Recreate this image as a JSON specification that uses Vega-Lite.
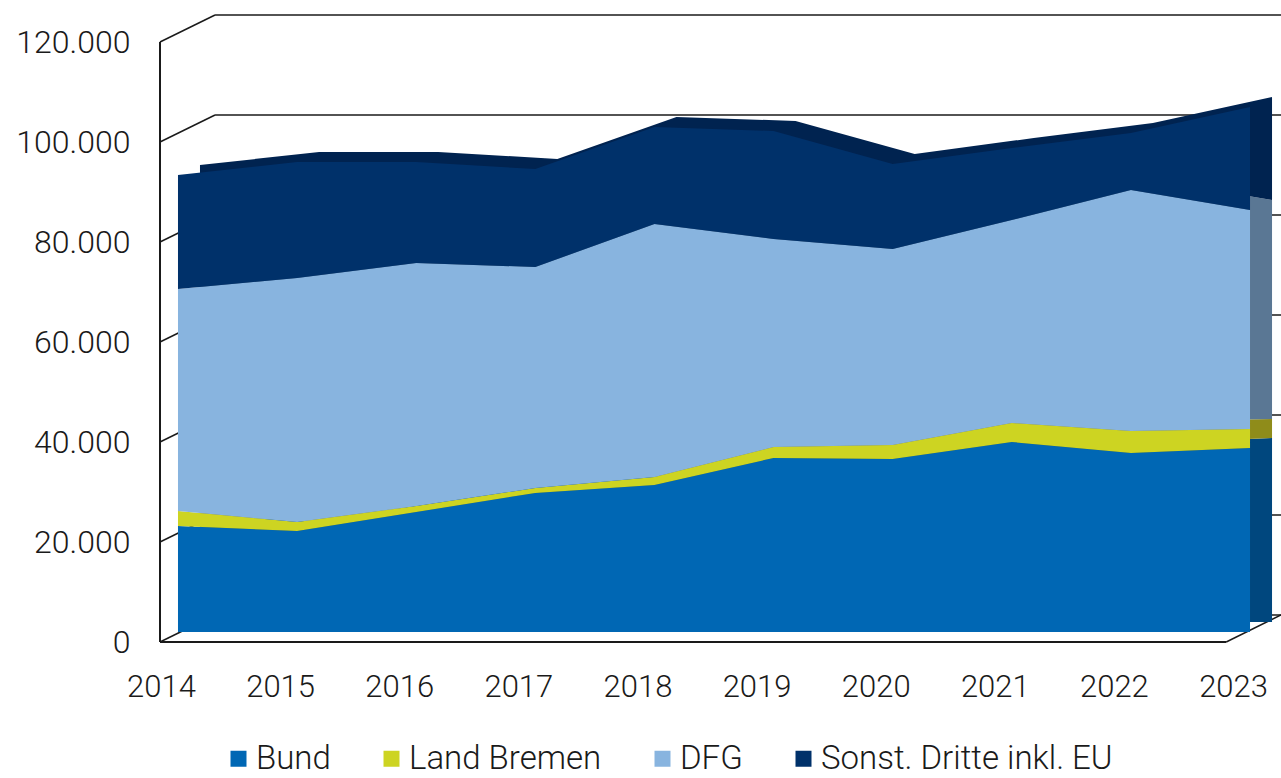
{
  "$schema": "https://vega.github.io/schema/vega-lite/v6.json",
  "autosize": "none",
  "width": 1121,
  "height": 627,
  "padding": {"left": 160, "top": 15, "right": 0, "bottom": 136},
  "background": "white",
  "config": {
    "view": {"stroke": null},
    "font": "Roboto",
    "axis": {"labelFont": "Roboto", "labelFontWeight": 300, "labelColor": "#1a1a1a", "domain": false, "ticks": false, "grid": false, "title": null},
    "legend": {"labelFont": "Roboto", "labelFontWeight": 300, "labelColor": "#1a1a1a"}
  },
  "datasets": {
    "grid": [
      {"v": 0}, {"v": 20000}, {"v": 40000}, {"v": 60000}, {"v": 80000}, {"v": 100000}, {"v": 120000}
    ],
    "funding": [
      {"year": 2014, "series": "Bund", "value": 21200},
      {"year": 2015, "series": "Bund", "value": 20200},
      {"year": 2016, "series": "Bund", "value": 24000},
      {"year": 2017, "series": "Bund", "value": 27800},
      {"year": 2018, "series": "Bund", "value": 29400},
      {"year": 2019, "series": "Bund", "value": 34800},
      {"year": 2020, "series": "Bund", "value": 34600},
      {"year": 2021, "series": "Bund", "value": 38000},
      {"year": 2022, "series": "Bund", "value": 35800},
      {"year": 2023, "series": "Bund", "value": 36800},
      {"year": 2014, "series": "Land Bremen", "value": 3000},
      {"year": 2015, "series": "Land Bremen", "value": 1800},
      {"year": 2016, "series": "Land Bremen", "value": 1200},
      {"year": 2017, "series": "Land Bremen", "value": 1000},
      {"year": 2018, "series": "Land Bremen", "value": 1600},
      {"year": 2019, "series": "Land Bremen", "value": 2200},
      {"year": 2020, "series": "Land Bremen", "value": 2800},
      {"year": 2021, "series": "Land Bremen", "value": 3800},
      {"year": 2022, "series": "Land Bremen", "value": 4400},
      {"year": 2023, "series": "Land Bremen", "value": 3800},
      {"year": 2014, "series": "DFG", "value": 44400},
      {"year": 2015, "series": "DFG", "value": 48800},
      {"year": 2016, "series": "DFG", "value": 48600},
      {"year": 2017, "series": "DFG", "value": 44200},
      {"year": 2018, "series": "DFG", "value": 50600},
      {"year": 2019, "series": "DFG", "value": 41600},
      {"year": 2020, "series": "DFG", "value": 39200},
      {"year": 2021, "series": "DFG", "value": 40600},
      {"year": 2022, "series": "DFG", "value": 48200},
      {"year": 2023, "series": "DFG", "value": 43800},
      {"year": 2014, "series": "Sonst. Dritte inkl. EU", "value": 22800},
      {"year": 2015, "series": "Sonst. Dritte inkl. EU", "value": 23200},
      {"year": 2016, "series": "Sonst. Dritte inkl. EU", "value": 20200},
      {"year": 2017, "series": "Sonst. Dritte inkl. EU", "value": 19600},
      {"year": 2018, "series": "Sonst. Dritte inkl. EU", "value": 19400},
      {"year": 2019, "series": "Sonst. Dritte inkl. EU", "value": 21600},
      {"year": 2020, "series": "Sonst. Dritte inkl. EU", "value": 17000},
      {"year": 2021, "series": "Sonst. Dritte inkl. EU", "value": 14400},
      {"year": 2022, "series": "Sonst. Dritte inkl. EU", "value": 11400},
      {"year": 2023, "series": "Sonst. Dritte inkl. EU", "value": 20600}
    ]
  },
  "layer": [
    {
      "data": {"name": "grid"},
      "mark": {"type": "rule", "yOffset": -27, "color": "#1a1a1a", "strokeWidth": 1.5},
      "encoding": {
        "x": {"datum": 2014.311, "type": "quantitative", "title": null,
              "scale": {"domain": [2013.849, 2023.26], "nice": false, "zero": false},
              "axis": {"values": [2014, 2015, 2016, 2017, 2018, 2019, 2020, 2021, 2022, 2023], "format": "d", "labelFontSize": 31, "labelPadding": 30, "labelOffset": -17}},
        "x2": {"datum": 2023.26},
        "y": {"field": "v", "type": "quantitative", "title": null,
              "scale": {"domain": [0, 125400], "nice": false, "zero": true},
              "axis": {"values": [0, 20000, 40000, 60000, 80000, 100000, 120000], "labelExpr": "replace(format(datum.value, ','), ',', '.')", "labelFontSize": 32, "labelPadding": 30}}
      }
    },
    {
      "data": {"name": "grid"},
      "mark": {"type": "rule", "y2Offset": -27, "color": "#1a1a1a", "strokeWidth": 1.5},
      "encoding": {
        "x": {"datum": 2013.849, "type": "quantitative", "title": null},
        "x2": {"datum": 2014.311},
        "y": {"field": "v", "type": "quantitative", "title": null},
        "y2": {"field": "v"}
      }
    },
    {
      "data": {"values": [{"edge": "front"}]},
      "mark": {"type": "rule", "color": "#1a1a1a", "strokeWidth": 2},
      "encoding": {
        "x": {"datum": 2013.849, "type": "quantitative", "title": null},
        "y": {"datum": 0, "type": "quantitative", "title": null},
        "y2": {"datum": 120000}
      }
    },
    {
      "data": {"values": [{"edge": "floor"}]},
      "mark": {"type": "rule", "color": "#1a1a1a", "strokeWidth": 2},
      "encoding": {
        "x": {"datum": 2013.849, "type": "quantitative", "title": null},
        "x2": {"datum": 2022.80},
        "y": {"datum": 0, "type": "quantitative", "title": null}
      }
    },
    {
      "data": {"values": [{"edge": "floor-right"}]},
      "mark": {"type": "rule", "color": "#1a1a1a", "strokeWidth": 1.5, "y2Offset": -27},
      "encoding": {
        "x": {"datum": 2022.80, "type": "quantitative", "title": null},
        "x2": {"datum": 2023.26},
        "y": {"datum": 0, "type": "quantitative", "title": null},
        "y2": {"datum": 0}
      }
    },
    {
      "data": {"name": "funding"},
      "transform": [{"calculate": "indexof(['Bund', 'Land Bremen', 'DFG', 'Sonst. Dritte inkl. EU'], datum.series)", "as": "stackOrder"}],
      "mark": {"type": "area", "xOffset": 22, "yOffset": -20, "y2Offset": -20},
      "encoding": {
        "x": {"field": "year", "type": "quantitative", "title": null},
        "y": {"field": "value", "type": "quantitative", "stack": "zero", "title": null},
        "order": {"field": "stackOrder", "type": "quantitative", "sort": "ascending"},
        "color": {"field": "series", "type": "nominal",
                  "scale": {"domain": ["Bund", "Land Bremen", "DFG", "Sonst. Dritte inkl. EU"], "range": ["#00477E", "#8F8C1A", "#5A7794", "#002350"]},
                  "legend": null}
      }
    },
    {
      "data": {"name": "funding"},
      "transform": [{"calculate": "indexof(['Bund', 'Land Bremen', 'DFG', 'Sonst. Dritte inkl. EU'], datum.series)", "as": "stackOrder"}],
      "mark": {"type": "area", "yOffset": -10, "y2Offset": -10},
      "encoding": {
        "x": {"field": "year", "type": "quantitative", "title": null},
        "y": {"field": "value", "type": "quantitative", "stack": "zero", "title": null},
        "order": {"field": "stackOrder", "type": "quantitative", "sort": "ascending"},
        "color": {"field": "series", "type": "nominal",
                  "scale": {"domain": ["Bund", "Land Bremen", "DFG", "Sonst. Dritte inkl. EU"], "range": ["#0067B4", "#CDD422", "#88B4DF", "#00316A"]},
                  "legend": {"title": null, "orient": "none", "direction": "horizontal", "legendX": 62, "legendY": 727,
                             "symbolType": "square", "symbolSize": 256, "symbolStrokeWidth": 0, "symbolOpacity": 1,
                             "labelFontSize": 33, "labelOffset": 1, "columnPadding": 44, "labelLimit": 500}}
      }
    }
  ],
  "resolve": {"scale": {"color": "independent"}}
}
